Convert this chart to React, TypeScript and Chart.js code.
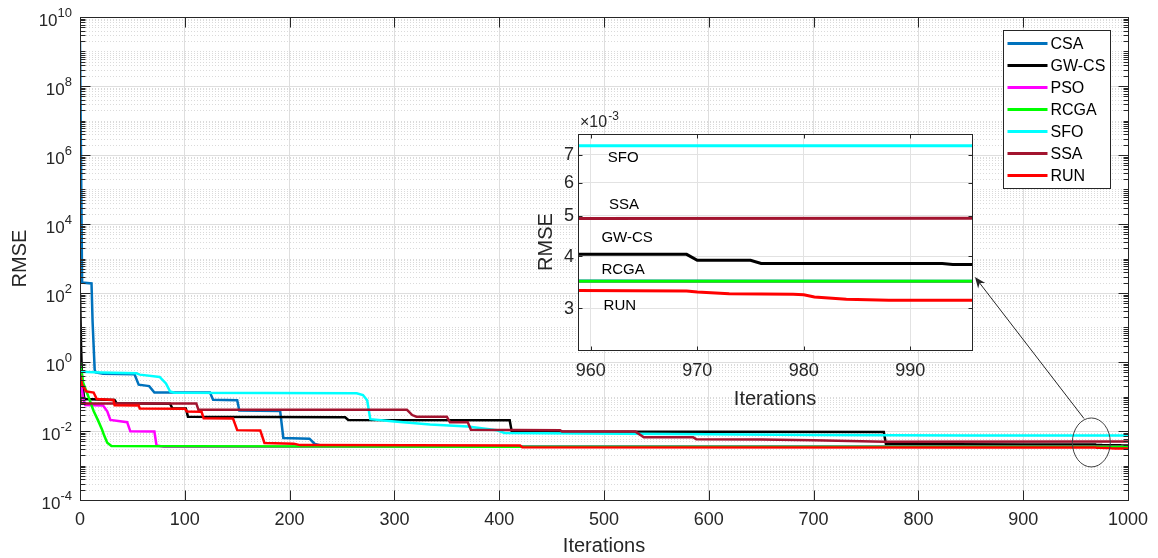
import React, { useEffect, useRef } from "react";
import { Chart, registerables } from "chart.js";

Chart.register(...registerables);

// ---------------- data (iteration, RMSE) ----------------
const SERIES_NAMES = ["CSA", "GW-CS", "PSO", "RCGA", "SFO", "SSA", "RUN"];
const SERIES_COLORS = ["#0072BD", "#000000", "#FF00FF", "#00FF00", "#00FFFF", "#A2142F", "#FF0000"];

const CSA: number[][] = [
  [0, 2e9], [2, 200], [11, 190], [12, 15], [14, 0.6], [15, 0.5], [22, 0.46], [52, 0.44], [56, 0.22],
  [66, 0.2], [71, 0.13], [124, 0.13], [127, 0.08], [150, 0.078], [152, 0.039], [191, 0.038],
  [194, 0.0063], [219, 0.006], [224, 0.0042], [232, 0.0037], [300, 0.00355], [1000, 0.00348],
];
const GW_CS: number[][] = [
  [0, 100], [1, 3], [2, 0.3], [4, 0.085], [33, 0.079], [35, 0.0635], [86, 0.062], [88, 0.0455],
  [101, 0.045], [103, 0.026], [253, 0.025], [256, 0.021], [410, 0.0205], [412, 0.0096], [767, 0.0093],
  [769, 0.0042], [900, 0.00408], [958, 0.00404], [969, 0.00404], [970, 0.00391], [975, 0.00391],
  [976, 0.00384], [993, 0.00384], [994, 0.00382], [1000, 0.00382],
];
const PSO: number[][] = [
  [0, 0.36], [3, 0.09], [5, 0.057], [22, 0.055], [26, 0.037], [29, 0.021], [45, 0.018], [48, 0.0098],
  [71, 0.0097], [73, 0.0038], [80, 0.0035], [1000, 0.00348],
];
const RCGA: number[][] = [
  [0, 0.95], [3, 0.25], [7, 0.12], [13, 0.038], [17, 0.021], [21, 0.011], [23, 0.0075], [26, 0.0046],
  [30, 0.0037], [100, 0.0036], [400, 0.00348], [1000, 0.00348],
];
const SFO: number[][] = [
  [0, 0.52], [20, 0.5], [54, 0.47], [57, 0.43], [76, 0.37], [82, 0.24], [86, 0.14], [90, 0.128],
  [264, 0.124], [270, 0.11], [274, 0.078], [277, 0.022], [300, 0.019], [334, 0.0155], [370, 0.0135],
  [398, 0.0105], [405, 0.0088], [480, 0.0085], [600, 0.008], [700, 0.0076], [850, 0.0074],
  [950, 0.00737], [1000, 0.00737],
];
const SSA: number[][] = [
  [0, 0.12], [1, 0.063], [111, 0.063], [113, 0.041], [312, 0.041], [317, 0.029], [321, 0.026],
  [350, 0.026], [353, 0.018], [370, 0.018], [373, 0.0108], [458, 0.0106], [460, 0.0096], [530, 0.0096],
  [538, 0.0066], [585, 0.0066], [588, 0.0058], [650, 0.0057], [700, 0.0054], [768, 0.0049], [1000, 0.00493],
];
const RUN: number[][] = [
  [0, 0.43], [2, 0.22], [6, 0.14], [13, 0.13], [16, 0.085], [32, 0.079], [33, 0.056], [56, 0.055],
  [57, 0.045], [100, 0.044], [102, 0.037], [116, 0.036], [118, 0.0234], [146, 0.023], [150, 0.0106],
  [172, 0.0104], [176, 0.0045], [204, 0.0043], [210, 0.0039], [420, 0.0038], [422, 0.0034],
  [900, 0.00333], [958, 0.00331], [969, 0.0033], [970, 0.00328], [973, 0.00325], [979, 0.00324],
  [980, 0.00323], [981, 0.00319], [984, 0.00315], [988, 0.003135], [1000, 0.00313],
];
const SERIES = [CSA, GW_CS, PSO, RCGA, SFO, SSA, RUN];

// axes
const X_TICKS = [0, 100, 200, 300, 400, 500, 600, 700, 800, 900, 1000];
const Y_EXPONENTS = [-4, -2, 0, 2, 4, 6, 8, 10];
const INSET_X_TICKS = [960, 970, 980, 990];
const INSET_Y_TICKS = [3, 4, 5, 6, 7]; // x 10^-3
const INSET_X_RANGE = [958.8, 995.8];
const INSET_Y_RANGE = [2.38e-3, 7.86e-3];

// inset text labels (iteration, RMSE)
const INSET_LABEL_TEXT = ["SFO", "SSA", "GW-CS", "RCGA", "RUN"];
const INSET_LABEL_X = [961.6, 961.7, 961.0, 961.0, 961.2];
const INSET_LABEL_Y = [6.88e-3, 5.31e-3, 4.42e-3, 3.7e-3, 3.03e-3];

// annotation: ellipse centre / arrow (iteration, RMSE)
const ELLIPSE_CENTER = [965, 0.00465];
const ARROW_TAIL = [958, 0.023];
const ARROW_TIP = [854, 291];

const FONT = '"Liberation Sans", Arial, Helvetica, sans-serif';
const AX = "#262626";

function makeDatasets(width: number) {
  return SERIES.map((pts, i) => ({
    label: SERIES_NAMES[i],
    data: pts.map(([x, y]) => ({ x, y })),
    borderColor: SERIES_COLORS[i],
    backgroundColor: SERIES_COLORS[i],
    borderWidth: width,
    pointRadius: 0,
    pointHoverRadius: 0,
    tension: 0,
    fill: false,
    order: SERIES.length - i,
  }));
}

const crisp = (v: number) => Math.round(v) + 0.5;

const mainPlugin = {
  id: "mainDecor",
  beforeDatasetsDraw(chart: any) {
    const { ctx, chartArea: a } = chart;
    const ys = chart.scales.y;
    ctx.save();
    ctx.strokeStyle = "#dadada";
    ctx.lineWidth = 1;
    ctx.setLineDash([1, 2]);
    for (let k = -4; k < 10; k++) {
      for (let m = 1; m <= 9; m++) {
        if (m === 1 && k % 2 === 0) continue;
        const y = crisp(ys.getPixelForValue(m * Math.pow(10, k)));
        ctx.beginPath();
        ctx.moveTo(a.left, y);
        ctx.lineTo(a.right, y);
        ctx.stroke();
      }
    }
    ctx.restore();
  },
  afterDatasetsDraw(chart: any) {
    const { ctx, chartArea: a } = chart;
    const xs = chart.scales.x;
    const ys = chart.scales.y;
    ctx.save();
    ctx.strokeStyle = AX;
    ctx.lineWidth = 1;
    ctx.setLineDash([]);
    const L = crisp(a.left), R = crisp(a.right), T = crisp(a.top), B = crisp(a.bottom);
    ctx.strokeRect(L, T, R - L, B - T);
    ctx.beginPath();
    for (const v of X_TICKS) {
      const x = crisp(xs.getPixelForValue(v));
      ctx.moveTo(x, B); ctx.lineTo(x, B - 10);
      ctx.moveTo(x, T); ctx.lineTo(x, T + 10);
    }
    for (let k = -4; k <= 10; k++) {
      for (let m = 1; m <= 9; m++) {
        if (k === 10 && m > 1) continue;
        const len = m === 1 && k % 2 === 0 ? 10 : 5;
        const y = crisp(ys.getPixelForValue(m * Math.pow(10, k)));
        ctx.moveTo(L, y); ctx.lineTo(L + len, y);
        ctx.moveTo(R, y); ctx.lineTo(R - len, y);
      }
    }
    ctx.stroke();
    ctx.restore();
  },
  afterDraw(chart: any) {
    const { ctx, chartArea: a } = chart;
    const xs = chart.scales.x;
    const ys = chart.scales.y;
    ctx.save();
    ctx.fillStyle = AX;
    // x tick labels
    ctx.font = `18px ${FONT}`;
    ctx.textAlign = "center";
    ctx.textBaseline = "middle";
    for (const v of X_TICKS) ctx.fillText(String(v), xs.getPixelForValue(v), a.bottom + 20);
    // y tick labels 10^k
    ctx.textAlign = "right";
    for (const e of Y_EXPONENTS) {
      const y = ys.getPixelForValue(Math.pow(10, e));
      const es = String(e);
      ctx.font = `13px ${FONT}`;
      const ew = ctx.measureText(es).width;
      ctx.fillText(es, a.left - 8, y - 4);
      ctx.font = `17px ${FONT}`;
      ctx.fillText("10", a.left - 8 - ew, y + 4);
    }
    // axis titles
    ctx.font = `20px ${FONT}`;
    ctx.textAlign = "center";
    ctx.fillText("Iterations", (a.left + a.right) / 2, a.bottom + 46);
    ctx.save();
    ctx.translate(a.left - 59.5, (a.top + a.bottom) / 2);
    ctx.rotate(-Math.PI / 2);
    ctx.fillText("RMSE", 0, 0);
    ctx.restore();

    // legend
    const bx = Math.round(a.right) - 125 + 0.5, by = Math.round(a.top) + 13 + 0.5, bw = 107, bh = 158;
    ctx.fillStyle = "#ffffff";
    ctx.fillRect(bx, by, bw, bh);
    ctx.strokeStyle = AX;
    ctx.lineWidth = 1;
    ctx.strokeRect(bx, by, bw, bh);
    ctx.font = `16px ${FONT}`;
    ctx.textAlign = "left";
    chart.data.datasets.forEach((ds: any, i: number) => {
      const cy = by + 13 + i * 22;
      ctx.strokeStyle = ds.borderColor;
      ctx.lineWidth = 3;
      ctx.beginPath();
      ctx.moveTo(bx + 4, cy);
      ctx.lineTo(bx + 44, cy);
      ctx.stroke();
      ctx.fillStyle = "#000000";
      ctx.fillText(ds.label, bx + 47, cy + 1);
    });

    // ellipse
    const cx = xs.getPixelForValue(ELLIPSE_CENTER[0]);
    const cy = ys.getPixelForValue(ELLIPSE_CENTER[1]);
    const rx = xs.getPixelForValue(ELLIPSE_CENTER[0] + 18.1) - cx;
    const ry = cy - ys.getPixelForValue(ELLIPSE_CENTER[1] * Math.pow(10, 0.71));
    ctx.strokeStyle = "#404040";
    ctx.lineWidth = 1;
    ctx.beginPath();
    ctx.ellipse(cx, cy, rx, ry, 0, 0, Math.PI * 2);
    ctx.stroke();

    // arrow
    const tx = xs.getPixelForValue(ARROW_TAIL[0]), ty = ys.getPixelForValue(ARROW_TAIL[1]);
    const hx = xs.getPixelForValue(ARROW_TIP[0]), hy = ys.getPixelForValue(ARROW_TIP[1]);
    const ang = Math.atan2(hy - ty, hx - tx);
    const hl = 11, hw = 4.5;
    ctx.strokeStyle = "#262626";
    ctx.beginPath();
    ctx.moveTo(tx, ty);
    ctx.lineTo(hx - Math.cos(ang) * 6, hy - Math.sin(ang) * 6);
    ctx.stroke();
    const ux = Math.cos(ang), uy = Math.sin(ang);
    const px = -uy, py = ux;
    ctx.fillStyle = "#262626";
    ctx.beginPath();
    ctx.moveTo(hx, hy);
    ctx.lineTo(hx - ux * hl + px * hw, hy - uy * hl + py * hw);
    ctx.lineTo(hx - ux * hl * 0.7, hy - uy * hl * 0.7);
    ctx.lineTo(hx - ux * hl - px * hw, hy - uy * hl - py * hw);
    ctx.closePath();
    ctx.fill();
    ctx.restore();
  },
};

const insetPlugin = {
  id: "insetDecor",
  beforeDraw(chart: any) {
    const { ctx, chartArea: a } = chart;
    ctx.save();
    ctx.fillStyle = "#ffffff";
    ctx.fillRect(a.left, a.top, a.right - a.left, a.bottom - a.top);
    ctx.restore();
  },
  afterDatasetsDraw(chart: any) {
    const { ctx, chartArea: a } = chart;
    const xs = chart.scales.x;
    const ys = chart.scales.y;
    ctx.save();
    ctx.strokeStyle = AX;
    ctx.lineWidth = 1;
    const L = crisp(a.left), R = crisp(a.right), T = crisp(a.top), B = crisp(a.bottom);
    ctx.strokeRect(L, T, R - L, B - T);
    ctx.beginPath();
    for (const v of INSET_X_TICKS) {
      const x = crisp(xs.getPixelForValue(v));
      ctx.moveTo(x, B); ctx.lineTo(x, B - 4);
      ctx.moveTo(x, T); ctx.lineTo(x, T + 4);
    }
    for (const v of INSET_Y_TICKS) {
      const y = crisp(ys.getPixelForValue(v * 1e-3));
      ctx.moveTo(L, y); ctx.lineTo(L + 4, y);
      ctx.moveTo(R, y); ctx.lineTo(R - 4, y);
    }
    ctx.stroke();
    ctx.restore();
  },
  afterDraw(chart: any) {
    const { ctx, chartArea: a } = chart;
    const xs = chart.scales.x;
    const ys = chart.scales.y;
    ctx.save();
    ctx.fillStyle = AX;
    ctx.font = `18px ${FONT}`;
    ctx.textAlign = "center";
    ctx.textBaseline = "middle";
    for (const v of INSET_X_TICKS) ctx.fillText(String(v), xs.getPixelForValue(v), a.bottom + 21.5);
    ctx.textAlign = "right";
    for (const v of INSET_Y_TICKS) ctx.fillText(String(v), a.left - 4, ys.getPixelForValue(v * 1e-3) + 0.5);
    // multiplier
    ctx.textAlign = "left";
    ctx.font = `16px ${FONT}`;
    ctx.fillText("\u00d710", a.left + 2, a.top - 11.5);
    const w = ctx.measureText("\u00d710").width;
    ctx.font = `12px ${FONT}`;
    ctx.fillText("-3", a.left + 3 + w, a.top - 17.5);
    // titles
    ctx.font = `20px ${FONT}`;
    ctx.textAlign = "center";
    ctx.fillText("Iterations", (a.left + a.right) / 2, a.bottom + 49.5);
    ctx.save();
    ctx.translate(a.left - 32, (a.top + a.bottom) / 2);
    ctx.rotate(-Math.PI / 2);
    ctx.fillText("RMSE", 0, 0);
    ctx.restore();
    // series labels
    ctx.fillStyle = "#000000";
    ctx.font = `15px ${FONT}`;
    ctx.textAlign = "left";
    INSET_LABEL_TEXT.forEach((t, i) => {
      ctx.fillText(t, xs.getPixelForValue(INSET_LABEL_X[i]), ys.getPixelForValue(INSET_LABEL_Y[i]));
    });
    ctx.restore();
  },
};

export default function App() {
  const mainRef = useRef<HTMLCanvasElement>(null);
  const insetRef = useRef<HTMLCanvasElement>(null);

  useEffect(() => {
    const main = new Chart(mainRef.current as HTMLCanvasElement, {
      type: "line",
      data: { datasets: makeDatasets(2.5) as any },
      options: {
        animation: false,
        responsive: false,
        devicePixelRatio: 1,
        layout: { padding: { left: 80, top: 17, right: 30, bottom: 58 } },
        plugins: { legend: { display: false }, tooltip: { enabled: false } },
        events: [],
        scales: {
          x: {
            type: "linear",
            min: 0,
            max: 1000,
            afterBuildTicks: (s: any) => { s.ticks = X_TICKS.map((v) => ({ value: v })); },
            ticks: { display: false },
            grid: { color: "#dedede", lineWidth: 1, drawTicks: false },
            border: { display: false },
          },
          y: {
            type: "logarithmic",
            min: 1e-4,
            max: 1e10,
            afterBuildTicks: (s: any) => { s.ticks = Y_EXPONENTS.map((e) => ({ value: Math.pow(10, e) })); },
            ticks: { display: false },
            grid: { color: "#dedede", lineWidth: 1, drawTicks: false },
            border: { display: false },
          },
        },
      } as any,
      plugins: [mainPlugin],
    });

    const inset = new Chart(insetRef.current as HTMLCanvasElement, {
      type: "line",
      data: { datasets: makeDatasets(3) as any },
      options: {
        animation: false,
        responsive: false,
        devicePixelRatio: 1,
        layout: { padding: { left: 58, top: 34, right: 18, bottom: 62 } },
        plugins: { legend: { display: false }, tooltip: { enabled: false } },
        events: [],
        scales: {
          x: {
            type: "linear",
            min: INSET_X_RANGE[0],
            max: INSET_X_RANGE[1],
            afterBuildTicks: (s: any) => { s.ticks = INSET_X_TICKS.map((v) => ({ value: v })); },
            ticks: { display: false },
            grid: { color: "#e2e2e2", lineWidth: 1, drawTicks: false },
            border: { display: false },
          },
          y: {
            type: "logarithmic",
            min: INSET_Y_RANGE[0],
            max: INSET_Y_RANGE[1],
            afterBuildTicks: (s: any) => { s.ticks = INSET_Y_TICKS.map((v) => ({ value: v * 1e-3 })); },
            ticks: { display: false },
            grid: { color: "#e2e2e2", lineWidth: 1, drawTicks: false },
            border: { display: false },
          },
        },
      } as any,
      plugins: [insetPlugin],
    });

    return () => {
      main.destroy();
      inset.destroy();
    };
  }, []);

  return (
    <div style={{ position: "relative", width: 1142, height: 550 }}>
      <canvas
        ref={mainRef}
        width={1158}
        height={558}
        style={{ position: "absolute", left: -8, top: -8, width: 1158, height: 558 }}
      />
      <canvas
        ref={insetRef}
        width={470}
        height={312}
        style={{ position: "absolute", left: 512, top: 92, width: 470, height: 312 }}
      />
    </div>
  );
}
